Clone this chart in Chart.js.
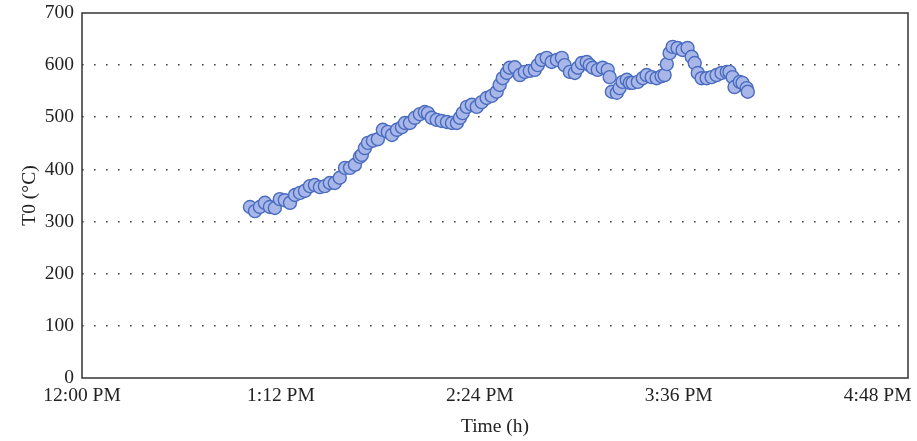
<!DOCTYPE html>
<html>
<head>
<meta charset="utf-8">
<script src="https://cdn.jsdelivr.net/npm/chart.js@4"></script>
<style>
  html, body { margin: 0; padding: 0; background: #fff; }
  #wrap { width: 917px; height: 441px; }
</style>
</head>
<body>
<div id="wrap"><canvas id="c" width="917" height="441"></canvas></div>
<script>
// Time in minutes after 12:00 PM
const timeMin = [60.8,62.6,64.4,66.2,68.0,69.8,71.6,73.4,75.3,77.1,78.9,80.7,82.5,84.3,86.1,87.9,89.7,91.5,93.3,95.2,97.0,98.8,100.6,101.3,102.4,103.5,105.3,107.1,108.9,110.7,112.2,114.0,115.8,116.9,118.7,120.5,122.3,124.1,125.2,126.6,128.4,130.2,132.1,133.9,135.7,136.8,137.8,139.3,141.1,142.9,144.7,146.5,148.3,150.1,151.2,152.3,153.8,154.8,156.7,158.5,160.3,162.1,163.9,165.0,166.4,168.2,170.0,171.9,173.7,174.7,176.6,178.4,179.5,180.9,182.7,183.8,184.9,186.7,188.5,190.3,191.0,191.8,193.6,194.6,195.7,197.2,198.3,199.3,201.2,203.0,204.4,206.2,208.0,209.8,210.9,211.7,212.7,213.8,215.6,217.4,219.2,220.7,221.8,222.9,224.3,226.1,227.9,229.7,231.5,233.4,234.4,235.5,236.2,238.1,239.1,240.6,241.0];
// T0 in degrees C
const tempC = [328,320,328,336,328,326,343,341,336,351,355,359,368,370,366,368,374,374,384,403,403,409,424,428,441,451,455,458,476,472,466,476,481,489,489,499,506,510,508,499,495,493,491,489,489,499,508,520,524,520,529,537,541,549,562,575,585,595,596,581,587,589,591,600,610,614,606,610,614,600,587,585,595,604,606,600,595,591,595,591,577,549,547,556,568,572,566,566,568,575,581,577,575,579,581,602,623,635,633,629,633,616,604,585,575,575,577,581,585,587,587,577,558,568,566,556,549];
const xTickValues = [0,72,144,216,288];
const xTickLabels = ['12:00 PM','1:12 PM','2:24 PM','3:36 PM','4:48 PM'];
const yTickValues = [0,100,200,300,400,500,600,700];

const points = timeMin.map((t,i)=>({x:t,y:tempC[i]}));

const boxPlugin = {
  id: 'box',
  afterDatasetsDraw(chart) {
    const a = chart.chartArea, ctx = chart.ctx;
    ctx.save();
    ctx.strokeStyle = '#333';
    ctx.lineWidth = 1.5;
    ctx.strokeRect(a.left, a.top, a.right - a.left, a.bottom - a.top);
    ctx.restore();
  }
};

const font = { family: '"Liberation Serif", "DejaVu Serif", serif', size: 19.5 };

new Chart(document.getElementById('c'), {
  type: 'scatter',
  data: {
    datasets: [{
      data: points,
      pointRadius: 6.5,
      pointHoverRadius: 6.5,
      backgroundColor: 'rgba(168,183,232,1)',
      borderColor: '#4a6cc0',
      borderWidth: 1.4
    }]
  },
  options: {
    responsive: false,
    animation: false,
    events: [],
    layout: { padding: { top: 13, right: 9, left: 0, bottom: 0 } },
    plugins: { legend: { display: false }, tooltip: { enabled: false } },
    scales: {
      x: {
        type: 'linear',
        min: 0, max: 299,
        afterBuildTicks: s => { s.ticks = xTickValues.map(v => ({value: v})); },
        afterFit: s => { s.height = 63; s.paddingLeft = 0; s.paddingRight = 0; },
        grid: { display: false, drawTicks: false },
        border: { display: false },
        ticks: {
          autoSkip: false, maxRotation: 0, padding: 6, color: '#222', font,
          callback: (v) => { const i = xTickValues.indexOf(v); return i >= 0 ? xTickLabels[i] : ''; }
        },
        title: { display: true, text: 'Time (h)', color: '#222', font, padding: { top: 2, bottom: 2 } }
      },
      y: {
        min: 0, max: 700,
        afterBuildTicks: s => { s.ticks = yTickValues.map(v => ({value: v})); },
        afterFit: s => { s.width = 82; s.paddingTop = 0; s.paddingBottom = 0; },
        grid: {
          drawTicks: false,
          color: (c) => (c.tick && (c.tick.value === 0 || c.tick.value === 700)) ? 'rgba(0,0,0,0)' : '#444',
          lineWidth: 1.6
        },
        border: { display: false, dash: [1.6, 10.4] },
        ticks: { padding: 8, color: '#222', font },
        title: { display: true, text: 'T0 (°C)', color: '#222', font, padding: { top: 18, bottom: 0 } }
      }
    }
  },
  plugins: [boxPlugin]
});
</script>
</body>
</html>
